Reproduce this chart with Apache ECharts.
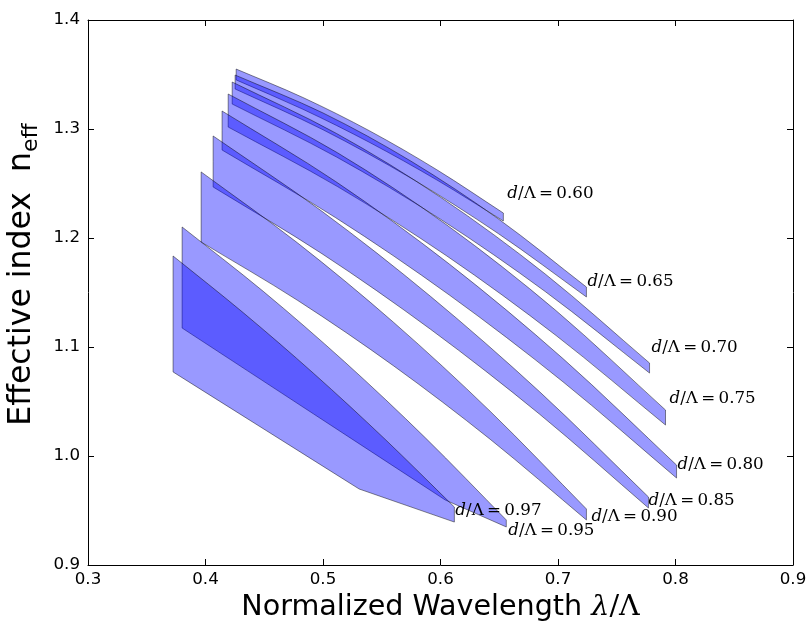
<!DOCTYPE html>
<html>
<head>
<meta charset="utf-8">
<script src="https://cdn.jsdelivr.net/npm/echarts@6/dist/echarts.min.js"></script>
<style>
  html, body { margin: 0; padding: 0; background: #ffffff; }
  #chart { width: 808px; height: 623px; }
</style>
</head>
<body>
<div id="chart"></div>
<script>
// Hole-to-pitch ratios d/Λ, one shaded band each
const ratios = ['0.60', '0.65', '0.70', '0.75', '0.80', '0.85', '0.90', '0.95', '0.97'];

// Upper and lower n_eff bounds of each band, as [λ/Λ, n_eff]
const upper060 = [[0.4261, 1.3550], [0.4829, 1.3289], [0.5398, 1.2982], [0.5966, 1.2628], [0.6535, 1.2229]];
const lower060 = [[0.4261, 1.3450], [0.4829, 1.3181], [0.5398, 1.2876], [0.5966, 1.2534], [0.6535, 1.2156]];

const upper065 = [[0.4252, 1.3495], [0.5000, 1.3147], [0.5747, 1.2706], [0.6494, 1.2174], [0.7242, 1.1550]];
const lower065 = [[0.4252, 1.3367], [0.5000, 1.2993], [0.5747, 1.2550], [0.6494, 1.2039], [0.7242, 1.1459]];

const upper070 = [[0.4227, 1.3431], [0.5115, 1.2959], [0.6003, 1.2372], [0.6891, 1.1670], [0.7779, 1.0853]];
const lower070 = [[0.4227, 1.3229], [0.5115, 1.2743], [0.6003, 1.2170], [0.6891, 1.1509], [0.7779, 1.0761]];

const upper075 = [[0.4193, 1.3321], [0.5123, 1.2782], [0.6054, 1.2119], [0.6984, 1.1333], [0.7915, 1.0422]];
const lower075 = [[0.4193, 1.3018], [0.5123, 1.2472], [0.6054, 1.1835], [0.6984, 1.1105], [0.7915, 1.0284]];

const upper080 = [[0.4141, 1.3165], [0.5108, 1.2518], [0.6075, 1.1761], [0.7042, 1.0894], [0.8009, 0.9917]];
const lower080 = [[0.4141, 1.2807], [0.5108, 1.2186], [0.6075, 1.1477], [0.7042, 1.0681], [0.8009, 0.9798]];

const upper085 = [[0.4065, 1.2936], [0.4991, 1.2245], [0.5917, 1.1463], [0.6844, 1.0589], [0.7770, 0.9624]];
const lower085 = [[0.4065, 1.2468], [0.4991, 1.1856], [0.5917, 1.1161], [0.6844, 1.0383], [0.7770, 0.9523]];

const upper090 = [[0.3963, 1.2606], [0.4782, 1.1956], [0.5602, 1.1225], [0.6422, 1.0411], [0.7242, 0.9514]];
const lower090 = [[0.3963, 1.1963], [0.4782, 1.1429], [0.5602, 1.0826], [0.6422, 1.0154], [0.7242, 0.9413]];

const upper095 = [[0.3801, 1.2101], [0.4491, 1.1511], [0.5181, 1.0867], [0.5871, 1.0167], [0.6560, 0.9413]];
const lower095 = [[0.3801, 1.1174], [0.6041, 0.9596], [0.6560, 0.9349]];

const upper097 = [[0.3724, 1.1835], [0.4322, 1.1314], [0.4921, 1.0757], [0.5519, 1.0163], [0.6118, 0.9532]];
const lower097 = [[0.3724, 1.0771], [0.5308, 0.9697], [0.6118, 0.9394]];

// Axis ticks
const xTicks = ['0.3', '0.4', '0.5', '0.6', '0.7', '0.8', '0.9'];
const yTicks = ['0.9', '1.0', '1.1', '1.2', '1.3', '1.4'];

const uppers = [upper060, upper065, upper070, upper075, upper080, upper085, upper090, upper095, upper097];
const lowers = [lower060, lower065, lower070, lower075, lower080, lower085, lower090, lower095, lower097];

// Lower bounds drawn as straight segments (with a sharp kink) rather than a smooth curve
const straightLower = [false, false, false, false, false, false, false, true, true];

// Pixel offset of each d/Λ label from the band's right-hand upper corner
const labelOffsets = [[4, -19], [1, -5], [2, -15], [4, -11], [1, 0], [0, 4], [5, 8], [2, 11], [1, 4]];

const SANS = 'DejaVu Sans';
const SERIF = 'DejaVu Serif';

// Repeating a vertex keeps that corner sharp when the outline is smoothed
function sharpen(pts) {
  const out = [];
  pts.forEach(function (p) { out.push(p, p); });
  return out;
}

function bandSeries(i) {
  const outline = uppers[i].concat(lowers[i].slice().reverse());
  return {
    type: 'custom',
    name: 'd/Λ=' + ratios[i],
    coordinateSystem: 'cartesian2d',
    xAxisIndex: 0,
    yAxisIndex: 0,
    data: outline,
    encode: { x: 0, y: 1 },
    silent: true,
    renderItem: function (params, api) {
      if (params.dataIndex !== 0) return null;
      const top = uppers[i].map(function (p) { return api.coord(p); });
      const bot = lowers[i].slice().reverse().map(function (p) { return api.coord(p); });
      const n = top.length;
      let pts = [top[0]].concat(top.slice(0, n - 1), [top[n - 1], top[n - 1]]);
      if (straightLower[i]) {
        pts = pts.concat(sharpen(bot));
      } else {
        pts = pts.concat([bot[0]], bot, [bot[bot.length - 1]]);
      }
      const tip = top[n - 1];
      const off = labelOffsets[i];
      return {
        type: 'group',
        children: [
          {
            type: 'polygon',
            shape: { points: pts, smooth: 0.33 },
            style: { fill: 'rgba(0,0,255,0.4)', stroke: 'rgba(0,0,0,0.45)', lineWidth: 1 }
          },
          {
            type: 'text',
            x: tip[0] + off[0],
            y: tip[1] + off[1],
            style: {
              text: '{i|d}{r|/Λ\u2009=\u2009' + ratios[i] + '}',
              align: 'left',
              verticalAlign: 'middle',
              fill: '#000',
              rich: {
                i: { fontFamily: SERIF, fontStyle: 'italic', fontSize: 16.7, fill: '#000' },
                r: { fontFamily: SERIF, fontSize: 16.7, fill: '#000' }
              }
            }
          }
        ]
      };
    }
  };
}

const xMin = parseFloat(xTicks[0]), xMax = parseFloat(xTicks[xTicks.length - 1]);
const yMin = parseFloat(yTicks[0]), yMax = parseFloat(yTicks[yTicks.length - 1]);

const tickStyle = { show: true, inside: true, length: 6, lineStyle: { color: '#000', width: 1 } };
const lineStyle = { show: true, onZero: false, lineStyle: { color: '#000', width: 1 } };

const chart = echarts.init(document.getElementById('chart'), null, { renderer: 'canvas' });
chart.setOption({
  animation: false,
  backgroundColor: '#ffffff',
  grid: { left: 88, right: 15, top: 20, bottom: 58, containLabel: false, outerBoundsMode: 'none' },
  xAxis: [
    {
      type: 'value', position: 'bottom', min: xMin, max: xMax, interval: 0.1,
      axisLine: lineStyle, axisTick: tickStyle, splitLine: { show: false },
      axisLabel: {
        color: '#000', fontFamily: SANS, fontSize: 16.7, margin: 6,
        formatter: function (v) { return v.toFixed(1); }
      },
      name: '{t|Normalized Wavelength }{m|λ}{s|/Λ}',
      nameLocation: 'middle', nameGap: 25,
      nameTextStyle: {
        color: '#000',
        rich: {
          t: { fontFamily: SANS, fontSize: 28.6, color: '#000' },
          m: { fontFamily: SERIF, fontStyle: 'italic', fontSize: 28.6, color: '#000' },
          s: { fontFamily: SERIF, fontSize: 28.6, color: '#000' }
        }
      }
    },
    {
      type: 'value', position: 'top', min: xMin, max: xMax, interval: 0.1,
      axisLine: lineStyle, axisTick: tickStyle, splitLine: { show: false },
      axisLabel: { show: false }
    }
  ],
  yAxis: [
    {
      type: 'value', position: 'left', min: yMin, max: yMax, interval: 0.1,
      axisLine: lineStyle, axisTick: tickStyle, splitLine: { show: false },
      axisLabel: {
        color: '#000', fontFamily: SANS, fontSize: 16.7, margin: 8,
        formatter: function (v) { return v.toFixed(1); }
      },
      name: '{t|Effective index  n}{s|eff}',
      nameLocation: 'middle', nameRotate: 90, nameGap: 28,
      nameTextStyle: {
        color: '#000',
        padding: [0, 0, 0, 36],
        rich: {
          t: { fontFamily: SANS, fontSize: 31.5, color: '#000', lineHeight: 42, verticalAlign: 'middle' },
          s: { fontFamily: SANS, fontSize: 22, color: '#000', lineHeight: 42, verticalAlign: 'bottom' }
        }
      }
    },
    {
      type: 'value', position: 'right', min: yMin, max: yMax, interval: 0.1,
      axisLine: lineStyle, axisTick: tickStyle, splitLine: { show: false },
      axisLabel: { show: false }
    }
  ],
  series: ratios.map(function (r, i) { return bandSeries(i); })
});
</script>
</body>
</html>
